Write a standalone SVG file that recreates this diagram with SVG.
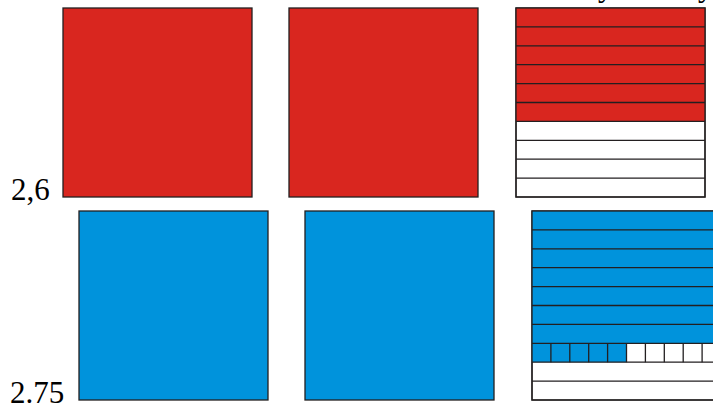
<svg xmlns="http://www.w3.org/2000/svg" width="713" height="403" viewBox="0 0 713 403">
<style>
.r{fill:#d9261f}
.b{fill:#0093dc}
.w{fill:#ffffff}
.s{stroke:#231f20;stroke-width:1.3}
.t{font-family:"Liberation Serif","Times New Roman",serif;font-size:31px;fill:#000}
</style>
<rect width="713" height="403" fill="#fff"/>
<g id="top-text">
<text class="t" x="598" y="-4">y</text>
<text class="t" x="698" y="-4">y</text>
</g>
<g id="label-26"><text class="t" x="11" y="200">2,6</text></g>
<g id="label-275"><text class="t" x="10" y="403">2.75</text></g>
<g id="red1"><rect class="r s" x="63" y="8" width="189" height="189"/></g>
<g id="red2"><rect class="r s" x="289" y="8" width="189" height="189"/></g>
<g id="red-grid">
<rect class="w s" x="516" y="8" width="189" height="189"/>
<rect class="r" x="516" y="8" width="189" height="113.4"/>
<g class="s" fill="none">
<rect x="516" y="8" width="189" height="189"/>
<path d="M516 26.9H705M516 45.8H705M516 64.7H705M516 83.6H705M516 102.5H705M516 121.4H705M516 140.3H705M516 159.2H705M516 178.1H705"/>
</g>
</g>
<g id="blue1"><rect class="b s" x="79" y="211" width="189" height="189"/></g>
<g id="blue2"><rect class="b s" x="305" y="211" width="189" height="189"/></g>
<g id="blue-grid">
<rect class="w s" x="532" y="211" width="189" height="189"/>
<rect class="b" x="532" y="211" width="189" height="132.3"/>
<rect class="b" x="532" y="343.3" width="94.5" height="18.9"/>
<g class="s" fill="none">
<rect x="532" y="211" width="189" height="189"/>
<path d="M532 229.9H721M532 248.8H721M532 267.7H721M532 286.6H721M532 305.5H721M532 324.4H721M532 343.3H721M532 362.2H721M532 381.1H721"/>
<path d="M550.9 343.3V362.2M569.8 343.3V362.2M588.7 343.3V362.2M607.6 343.3V362.2M626.5 343.3V362.2M645.4 343.3V362.2M664.3 343.3V362.2M683.2 343.3V362.2M702.1 343.3V362.2"/>
</g>
</g>
</svg>
